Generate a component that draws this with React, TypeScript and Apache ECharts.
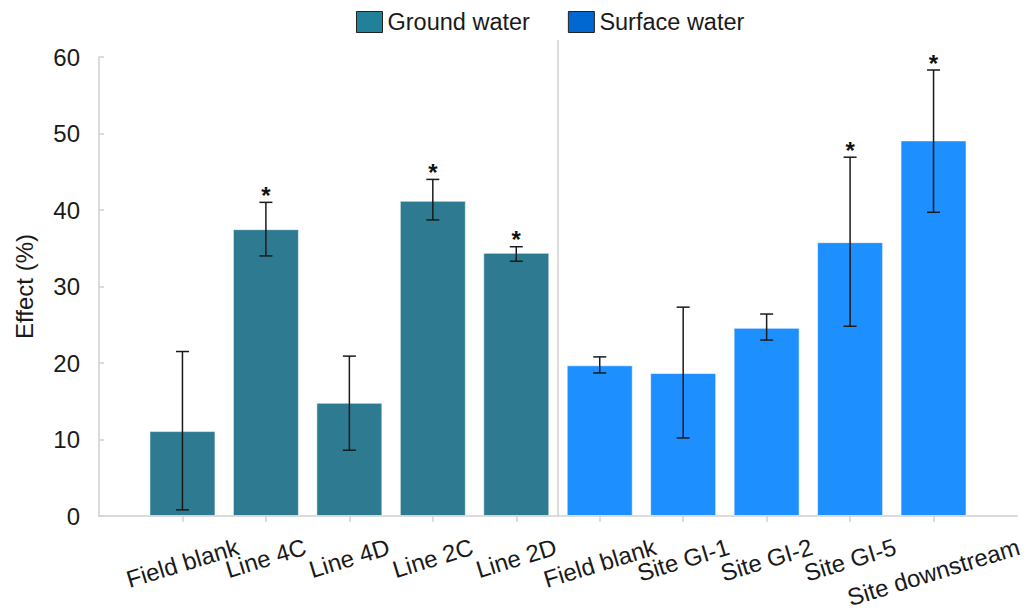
import React, { useEffect, useRef } from "react";
import * as echarts from "echarts";

const groundLabels = ["Field blank", "Line 4C", "Line 4D", "Line 2C", "Line 2D"];
const surfaceLabels = ["Field blank", "Site GI-1", "Site GI-2", "Site GI-5", "Site downstream"];

const groundMean = [11.1, 37.5, 14.8, 41.2, 34.4];
const groundLow = [0.8, 34.0, 8.6, 38.7, 33.3];
const groundHigh = [21.5, 41.0, 20.9, 44.0, 35.2];
const groundSig = [false, true, false, true, true];

const surfaceMean = [19.7, 18.7, 24.6, 35.8, 49.1];
const surfaceLow = [18.7, 10.2, 23.0, 24.8, 39.7];
const surfaceHigh = [20.8, 27.3, 26.4, 46.9, 58.3];
const surfaceSig = [false, false, false, true, true];

const yMin = 0;
const yMax = 60;
const yInterval = 10;

const FONT = '"Liberation Sans", Arial, sans-serif';
const TEXT = "#1a1a1a";
const AXIS = "#d0d0d0";
const LABEL_SIZE = 24;
const ROT = 17;

const categories = ["", ...groundLabels, ...surfaceLabels, ""];

function measure(t: string): number {
  const c = document.createElement("canvas").getContext("2d");
  if (!c) return t.length * 11;
  c.font = `${LABEL_SIZE}px "Liberation Sans"`;
  return c.measureText(t).width;
}

export default function App() {
  const ref = useRef<HTMLDivElement>(null);

  useEffect(() => {
    if (!ref.current) return;
    const chart = echarts.init(ref.current, null, { renderer: "svg" });

    const blanks = surfaceLabels.map(() => "-");
    const groundData = ["-", ...groundMean, ...blanks, "-"];
    const surfaceData = ["-", ...groundLabels.map(() => "-"), ...surfaceMean, "-"];

    const errData: number[][] = [];
    groundMean.forEach((_, i) => {
      errData.push([1 + i, groundLow[i], groundHigh[i], groundSig[i] ? 1 : 0]);
    });
    surfaceMean.forEach((_, i) => {
      errData.push([1 + groundLabels.length + i, surfaceLow[i], surfaceHigh[i], surfaceSig[i] ? 1 : 0]);
    });

    const option: any = {
      animation: false,
      backgroundColor: "#ffffff",
      textStyle: { fontFamily: FONT },
      legend: {
        left: 351,
        top: 5,
        itemWidth: 26,
        itemHeight: 21,
        itemGap: 38,
        textStyle: { fontSize: 23.5, color: TEXT, fontFamily: FONT },
        data: [
          { name: "Ground water", icon: "rect", itemStyle: { color: "#21809A", borderColor: "#222", borderWidth: 1 } },
          { name: "Surface water", icon: "rect", itemStyle: { color: "#0068D0", borderColor: "#222", borderWidth: 1 } },
        ],
      },
      grid: { left: 99, right: 10, top: 57, bottom: 98, outerBoundsMode: "none", containLabel: false },
      xAxis: {
        type: "category",
        data: categories,
        boundaryGap: false,
        axisLine: { show: true, lineStyle: { color: AXIS, width: 1.5 } },
        axisTick: {
          show: true,
          inside: false,
          length: 6,
          interval: (i: number) => i > 0 && i < categories.length - 1,
          lineStyle: { color: AXIS, width: 1.5 },
        },
        axisLabel: { show: false },
        splitLine: { show: false },
      },
      yAxis: {
        type: "value",
        min: yMin,
        max: yMax,
        interval: yInterval,
        name: "Effect (%)",
        nameLocation: "middle",
        nameRotate: 90,
        nameGap: 63,
        nameTextStyle: { fontSize: LABEL_SIZE, color: TEXT, fontFamily: FONT },
        axisLine: { show: true, lineStyle: { color: AXIS, width: 1.5 } },
        axisTick: { show: true, inside: true, length: 5, lineStyle: { color: AXIS, width: 1.5 } },
        axisLabel: { fontSize: LABEL_SIZE, color: TEXT, margin: 19, fontFamily: FONT },
        splitLine: { show: false },
      },
      series: [
        {
          name: "Ground water",
          type: "bar",
          data: groundData,
          barWidth: 66,
          barGap: "-100%",
          itemStyle: { color: "#2E7A91", borderColor: "rgba(255,255,255,0.55)", borderWidth: 1 },
        },
        {
          name: "Surface water",
          type: "bar",
          data: surfaceData,
          barWidth: 66,
          barGap: "-100%",
          itemStyle: { color: "#1E8FFF", borderColor: "rgba(255,255,255,0.55)", borderWidth: 1 },
        },
        {
          name: "err",
          type: "custom",
          data: errData,
          encode: { x: 0, y: [1, 2] },
          z: 10,
          renderItem: (_params: any, api: any) => {
            const x = api.value(0);
            const lo = api.value(1);
            const hi = api.value(2);
            const sig = api.value(3);
            const pHi = api.coord([x, hi]);
            const pLo = api.coord([x, lo]);
            const cw = 6.5;
            const st = { stroke: "#1a1a1a", lineWidth: 1.5 };
            const children: any[] = [
              { type: "line", shape: { x1: pHi[0], y1: pHi[1], x2: pLo[0], y2: pLo[1] }, style: st },
              { type: "line", shape: { x1: pHi[0] - cw, y1: pHi[1], x2: pHi[0] + cw, y2: pHi[1] }, style: st },
              { type: "line", shape: { x1: pLo[0] - cw, y1: pLo[1], x2: pLo[0] + cw, y2: pLo[1] }, style: st },
            ];
            if (sig) {
              children.push({
                type: "text",
                x: pHi[0],
                y: pHi[1] - 7,
                style: {
                  text: "*",
                  fill: "#111",
                  font: `bold 24px ${FONT}`,
                  align: "center",
                  verticalAlign: "middle",
                },
              });
            }
            return { type: "group", children };
          },
        },
      ],
    };

    chart.setOption(option);

    const pa = chart.convertToPixel({ xAxisIndex: 0 }, groundLabels.length) as number;
    const pb = chart.convertToPixel({ xAxisIndex: 0 }, groundLabels.length + 1) as number;
    const y0 = chart.convertToPixel({ yAxisIndex: 0 }, yMin) as number;
    const sx = (pa + pb) / 2;
    const th = (ROT * Math.PI) / 180;

    const labelGraphics: any[] = [];
    categories.forEach((c, i) => {
      if (!c) return;
      const px = chart.convertToPixel({ xAxisIndex: 0 }, i) as number;
      const L = measure(c);
      const cy = y0 + 30 + 0.5 * L * Math.sin(th);
      labelGraphics.push({
        type: "text",
        x: px,
        y: cy,
        rotation: th,
        silent: true,
        style: {
          text: c,
          fill: TEXT,
          font: `${LABEL_SIZE}px ${FONT}`,
          align: "center",
          verticalAlign: "middle",
        },
      });
    });

    chart.setOption({
      graphic: [
        {
          type: "line",
          shape: { x1: sx, y1: 40, x2: sx, y2: y0 },
          style: { stroke: AXIS, lineWidth: 1.5 },
          z: 0,
        },
        ...labelGraphics,
      ],
    });

    return () => chart.dispose();
  }, []);

  return (
    <div
      ref={ref}
      style={{ position: "fixed", left: 0, top: 0, width: 1027, height: 614 }}
    />
  );
}
